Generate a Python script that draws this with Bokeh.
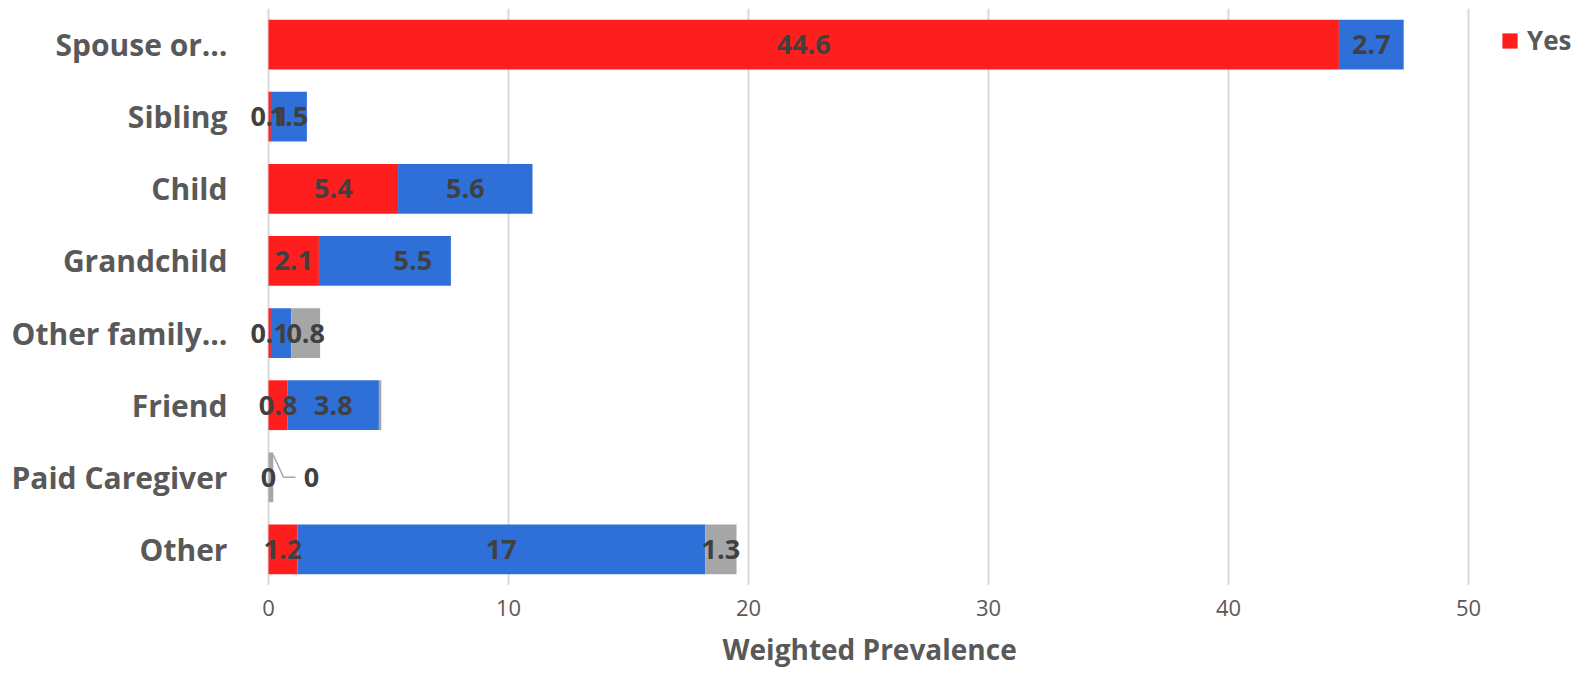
from bokeh.plotting import figure
from bokeh.models import (FactorRange, Range1d, ColumnDataSource, Legend, LegendItem,
                          SingleIntervalTicker, Title)
from bokeh.core.properties import value
from bokeh.embed import file_html
from bokeh.resources import INLINE

# ---------------- data ----------------
categories = ["Spouse or…", "Sibling", "Child", "Grandchild",
              "Other family…", "Friend", "Paid Caregiver", "Other"]
series_names = ["Yes", "No", "Don't know"]
yes_vals = [44.6, 0.1, 5.4, 2.1, 0.1, 0.8, 0.0, 1.2]
no_vals = [2.7, 1.5, 5.6, 5.5, 0.85, 3.8, 0.0, 17.0]
dk_vals = [0.0, 0.0, 0.0, 0.0, 1.2, 0.1, 0.2, 1.3]
yes_labels = ["44.6", "0.1", "5.4", "2.1", "0.1", "0.8", "0", "1.2"]
no_labels = ["2.7", "1.5", "5.6", "5.5", "", "3.8", "0", "17"]
dk_labels = ["", "", "", "", "0.8", "", "", "1.3"]
x_ticks_interval = 10
x_title = "Weighted Prevalence"

# ---------------- style / layout ----------------
RED = "#FF1E1E"
BLUE = "#2F70D8"
GRAY = "#A6A6A6"
TXT = "#595959"
LBL = "#404040"
FONT = "Open Sans"

W, H = 1575, 677
PX_PER_UNIT = 24.0          # 0..50 spans 1200 px in the original
ZERO_PX = 268               # canvas x of value 0
FRAME_LEFT = 240            # frame starts a little left of zero so labels near 0 are not clipped
x_start = -(ZERO_PX - FRAME_LEFT) / PX_PER_UNIT
x_end = (W - ZERO_PX) / PX_PER_UNIT

p = figure(width=W, height=H,
           y_range=FactorRange(*reversed(categories)),
           x_range=Range1d(x_start, x_end),
           output_backend="svg", toolbar_location=None,
           min_border_left=FRAME_LEFT, min_border_right=0,
           min_border_top=8, min_border_bottom=92)
p.outline_line_color = None
p.background_fill_color = "white"
p.border_fill_color = "white"

src = ColumnDataSource(dict(cat=categories, yes=yes_vals, no=no_vals, dk=dk_vals))
rends = p.hbar_stack(["yes", "no", "dk"], y="cat", height=0.69,
                     color=[RED, BLUE, GRAY], line_color=None, source=src)

# label positions (segment centres), derived from the data
yes_mid = [y / 2 for y in yes_vals]
no_mid = [y + n / 2 for y, n in zip(yes_vals, no_vals)]
dk_mid = [y + n + d / 2 for y, n, d in zip(yes_vals, no_vals, dk_vals)]

# labels that were moved by hand in the original (screen px)
label_shift = {("No", "Grandchild"): 28, ("No", "Paid Caregiver"): 43}

lx, ly, lt, lo = [], [], [], []
for name, mids, labs in [("Yes", yes_mid, yes_labels), ("No", no_mid, no_labels),
                         ("Don't know", dk_mid, dk_labels)]:
    for c, m, t in zip(categories, mids, labs):
        if t == "":
            continue
        lx.append(m)
        ly.append(c)
        lt.append(t)
        lo.append(label_shift.get((name, c), 0))

lsrc = ColumnDataSource(dict(x=lx, y=ly, t=lt, o=lo))
p.text(x="x", y="y", text="t", x_offset="o", source=lsrc,
       text_align="center", text_baseline="middle",
       text_font=value(FONT), text_font_style="bold",
       text_font_size="27px", text_color=LBL)

# leader line for the moved "Paid Caregiver" label
pc = categories.index("Paid Caregiver")
lab_x = no_mid[pc] + label_shift[("No", "Paid Caregiver")] / PX_PER_UNIT
tot_pc = yes_vals[pc] + no_vals[pc] + dk_vals[pc]
p.line(x=[tot_pc, lab_x - 28 / PX_PER_UNIT, lab_x - 16 / PX_PER_UNIT],
       y=[("Paid Caregiver", 0.31), ("Paid Caregiver", 0.0), ("Paid Caregiver", 0.0)],
       line_color=GRAY, line_width=1.5)

# axes
ticker = SingleIntervalTicker(interval=x_ticks_interval)
p.xaxis.ticker = ticker
p.xgrid.ticker = ticker
p.xgrid.grid_line_color = "#D9D9D9"
p.xgrid.grid_line_width = 2
p.ygrid.grid_line_color = None

p.xaxis.axis_line_color = None
p.xaxis.major_tick_line_color = None
p.xaxis.minor_tick_line_color = None
p.xaxis.major_label_text_font = FONT
p.xaxis.major_label_text_font_size = "22px"
p.xaxis.major_label_text_color = TXT
p.xaxis.major_label_standoff = 8

p.yaxis.axis_line_color = None
p.yaxis.major_tick_line_color = None
p.yaxis.minor_tick_line_color = None
p.yaxis.major_label_text_font = FONT
p.yaxis.major_label_text_font_size = "30px"
p.yaxis.major_label_text_font_style = "bold"
p.yaxis.major_label_text_color = TXT
p.yaxis.major_label_standoff = 7

# axis title, centred under the 0..50 part of the axis
title_font_px = 28
approx_title_w = 292
title_offset = (ZERO_PX + 25 * PX_PER_UNIT) - FRAME_LEFT - approx_title_w / 2
xt = Title(text=x_title, align="left", offset=title_offset,
           text_font=FONT, text_font_size=f"{title_font_px}px",
           text_font_style="bold", text_color=TXT, standoff=18)
p.add_layout(xt, "below")

# only the first legend entry is visible in the (cropped) original
legend = Legend(items=[LegendItem(label=series_names[0], renderers=[rends[0]])],
                orientation="horizontal", location=(1500 - FRAME_LEFT, 527),
                label_text_font=FONT, label_text_font_size="26px",
                label_text_font_style="bold", label_text_color=TXT,
                glyph_width=19, glyph_height=19, label_standoff=8,
                padding=0, margin=0, border_line_color=None,
                background_fill_alpha=0)
p.add_layout(legend, "center")

open("out.html", "w").write(file_html(p, INLINE))
